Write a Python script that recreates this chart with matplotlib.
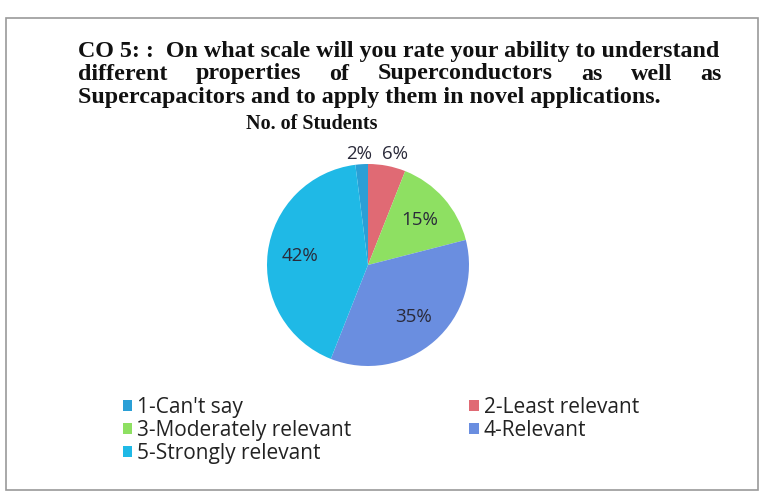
import matplotlib
matplotlib.use("Agg")
import matplotlib.pyplot as plt
from matplotlib.patches import Rectangle, Patch
import numpy as np

categories = ["1-Can't say", "2-Least relevant", "3-Moderately relevant", "4-Relevant", "5-Strongly relevant"]
percent = [2, 6, 15, 35, 42]
colors = ["#2a9fd6", "#e06a74", "#8ee062", "#6a8ee0", "#1fb9e6"]
title_lines = ["CO 5: :  On what scale will you rate your ability to understand",
               "different properties of Superconductors as well as",
               "Supercapacitors and to apply them in novel applications."]
subtitle = "No. of Students"

W, H = 764, 495
fig = plt.figure(figsize=(W / 100, H / 100), dpi=100)
fig.patch.set_facecolor("white")

# border of the scanned chart frame
fig.add_artist(Rectangle((6 / W, 1 - 490 / H), (758 - 6) / W, (490 - 18) / H,
                         transform=fig.transFigure, fill=False,
                         edgecolor="#9a9a9a", linewidth=1.2))

serif = dict(family="Liberation Serif", weight="bold", fontsize=17.3, color="#111111")
renderer = fig.canvas.get_renderer()

left_x, right_x = 78, 722
ys = [51, 74, 97]

for i, (line, y) in enumerate(zip(title_lines, ys)):
    if i == 1:
        words = line.split()
        widths = []
        for w in words:
            t = fig.text(0, 0, w, **serif)
            bb = t.get_window_extent(renderer)
            widths.append(bb.width)
            t.remove()
        gap = (right_x - left_x - sum(widths)) / (len(words) - 1)
        x = left_x
        for w, wd in zip(words, widths):
            fig.text(x / W, 1 - y / H, w, ha="left", va="center", **serif)
            x += wd + gap
    else:
        fig.text(left_x / W, 1 - y / H, line, ha="left", va="center", **serif)

fig.text(312 / W, 1 - 124 / H, subtitle, ha="center", va="center",
         **{**serif, "fontsize": 14.5})

# pie
cx, cy, r = 368, 265, 101
ax = fig.add_axes([(cx - r) / W, 1 - (cy + r) / H, 2 * r / W, 2 * r / H])
wedges, _ = ax.pie(percent, colors=colors, startangle=90 + percent[0] * 3.6,
                   counterclock=False, radius=1.0,
                   wedgeprops=dict(linewidth=0))
ax.set_xlim(-1, 1)
ax.set_ylim(-1, 1)
ax.set_aspect("auto")
ax.axis("off")

label_font = dict(family="Open Sans", fontsize=13.5, color="#2a2a3a")
for i, (w, p) in enumerate(zip(wedges, percent)):
    ang = np.deg2rad((w.theta1 + w.theta2) / 2)
    if p < 10:
        x, y = 1.45 * np.cos(ang), 1.1
    else:
        x, y = 0.68 * np.cos(ang), 0.68 * np.sin(ang)
    ax.text(x, y, f"{p}%", ha="center", va="center", clip_on=False, **label_font)

handles = [Patch(facecolor=c, edgecolor="none") for c in colors]
order = [0, 2, 4, 1, 3]
leg = fig.legend([handles[i] for i in order], [categories[i] for i in order],
                 loc="upper left", bbox_to_anchor=(104 / W, 1 - 378 / H),
                 ncol=2, frameon=False, handlelength=0.45, handleheight=0.45,
                 handletextpad=0.25, columnspacing=5.65, labelspacing=0.1,
                 prop=dict(family="Open Sans", size=15))
for t in leg.get_texts():
    t.set_color("#222222")

fig.savefig("out.png", dpi=100, facecolor="white")
